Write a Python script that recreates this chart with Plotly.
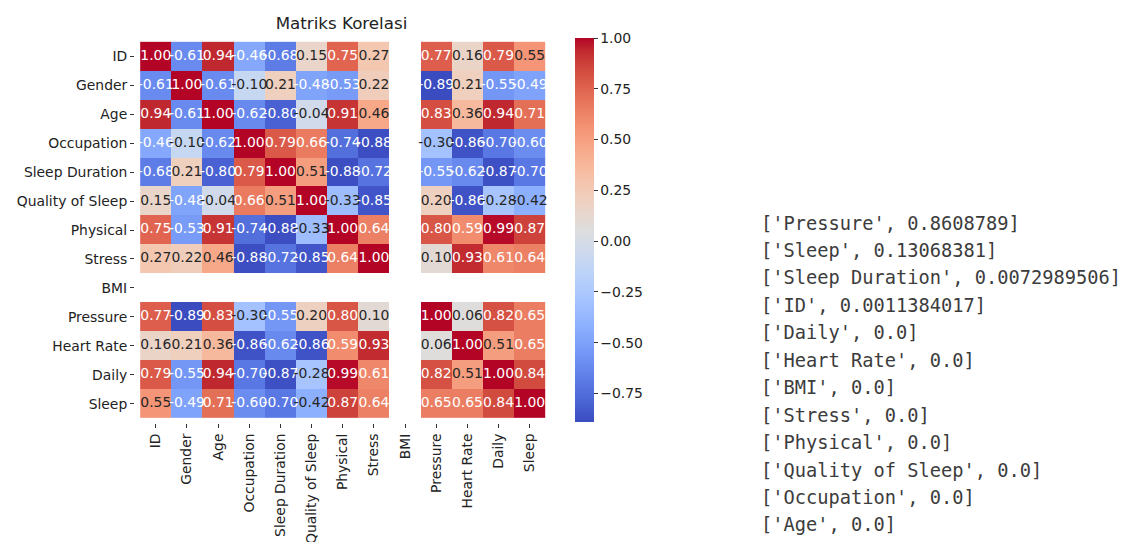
import plotly.graph_objects as go

W, H = 1129, 542
OFF = 8  # page body margin: positions below are measured in page pixels

labels = ["ID", "Gender", "Age", "Occupation", "Sleep Duration", "Quality of Sleep",
          "Physical", "Stress", "BMI", "Pressure", "Heart Rate", "Daily", "Sleep"]

N = None
row_id        = [1.00, -0.61, 0.94, -0.46, -0.68, 0.15, 0.75, 0.27, N, 0.77, 0.16, 0.79, 0.55]
row_gender    = [-0.61, 1.00, -0.61, -0.10, 0.21, -0.48, -0.53, 0.22, N, -0.89, 0.21, -0.55, -0.49]
row_age       = [0.94, -0.61, 1.00, -0.62, -0.80, -0.04, 0.91, 0.46, N, 0.83, 0.36, 0.94, 0.71]
row_occ       = [-0.46, -0.10, -0.62, 1.00, 0.79, 0.66, -0.74, -0.88, N, -0.30, -0.86, -0.70, -0.60]
row_sleepdur  = [-0.68, 0.21, -0.80, 0.79, 1.00, 0.51, -0.88, -0.72, N, -0.55, -0.62, -0.87, -0.70]
row_quality   = [0.15, -0.48, -0.04, 0.66, 0.51, 1.00, -0.33, -0.85, N, 0.20, -0.86, -0.28, -0.42]
row_physical  = [0.75, -0.53, 0.91, -0.74, -0.88, -0.33, 1.00, 0.64, N, 0.80, 0.59, 0.99, 0.87]
row_stress    = [0.27, 0.22, 0.46, -0.88, -0.72, -0.85, 0.64, 1.00, N, 0.10, 0.93, 0.61, 0.64]
row_bmi       = [N] * 13
row_pressure  = [0.77, -0.89, 0.83, -0.30, -0.55, 0.20, 0.80, 0.10, N, 1.00, 0.06, 0.82, 0.65]
row_heart     = [0.16, 0.21, 0.36, -0.86, -0.62, -0.86, 0.59, 0.93, N, 0.06, 1.00, 0.51, 0.65]
row_daily     = [0.79, -0.55, 0.94, -0.70, -0.87, -0.28, 0.99, 0.61, N, 0.82, 0.51, 1.00, 0.84]
row_sleep     = [0.55, -0.49, 0.71, -0.60, -0.70, -0.42, 0.87, 0.64, N, 0.65, 0.65, 0.84, 1.00]

matrix = [row_id, row_gender, row_age, row_occ, row_sleepdur, row_quality, row_physical,
          row_stress, row_bmi, row_pressure, row_heart, row_daily, row_sleep]

ZMIN, ZMAX = -0.89, 1.00
cbar_ticks = [-0.75, -0.50, -0.25, 0.00, 0.25, 0.50, 0.75, 1.00]

result_names = ["Pressure", "Sleep", "Sleep Duration", "ID", "Daily", "Heart Rate", "BMI",
                "Stress", "Physical", "Quality of Sleep", "Occupation", "Age"]
result_scores = [0.8608789, 0.13068381, 0.0072989506, 0.0011384017, 0.0, 0.0, 0.0,
                 0.0, 0.0, 0.0, 0.0, 0.0]

# matplotlib "coolwarm" (Moreland) colour table
cw = [(59, 76, 192), (68, 90, 204), (77, 104, 215), (87, 117, 225), (98, 130, 234),
      (108, 142, 241), (119, 154, 247), (130, 165, 251), (141, 176, 254), (152, 185, 255),
      (163, 194, 255), (174, 201, 253), (184, 208, 249), (194, 213, 244), (204, 217, 238),
      (213, 219, 230), (221, 221, 221), (229, 216, 209), (236, 211, 197), (241, 204, 185),
      (245, 196, 173), (247, 187, 160), (247, 177, 148), (247, 166, 135), (244, 154, 123),
      (241, 141, 111), (236, 127, 99), (229, 112, 88), (222, 96, 77), (213, 80, 66),
      (203, 62, 56), (192, 40, 47), (180, 4, 38)]
n = len(cw) - 1
colorscale = [[i / n, "rgb(%d,%d,%d)" % c] for i, c in enumerate(cw)]


def cmap(t):
    t = min(max(t, 0.0), 1.0) * n
    i = min(int(t), n - 1)
    f = t - i
    a, b = cw[i], cw[i + 1]
    return tuple(a[k] + (b[k] - a[k]) * f for k in range(3))


def lum(rgb):
    out = []
    for c in rgb:
        c = c / 255.0
        out.append(c / 12.92 if c <= 0.03928 else ((c + 0.055) / 1.055) ** 2.4)
    return 0.2126 * out[0] + 0.7152 * out[1] + 0.0722 * out[2]


def px(x):
    return (x - OFF) / W


def py(y):
    return 1 - (y - OFF) / H


tx, ty, tt, tc = [], [], [], []
for r, row in enumerate(matrix):
    for c, v in enumerate(row):
        if v is None:
            continue
        tx.append(labels[c])
        ty.append(labels[r])
        tt.append(format(v, ".2f"))
        col = cmap((v - ZMIN) / (ZMAX - ZMIN))
        tc.append("#262626" if lum(col) > 0.408 else "white")

FS = 13.9
fig = go.Figure()
fig.add_trace(go.Heatmap(
    z=matrix, x=labels, y=labels, colorscale=colorscale, zmin=ZMIN, zmax=ZMAX,
    hoverongaps=False, xgap=0, ygap=0,
    colorbar=dict(
        x=px(575), xanchor="left", xpad=0, ypad=0, thickness=19,
        len=(422 - 38) / H, lenmode="fraction", y=py(230), yanchor="middle",
        outlinewidth=0, ticks="outside", ticklen=4, tickwidth=1, tickcolor="#333",
        tickvals=cbar_ticks,
        ticktext=[format(v, ".2f").replace("-", "\u2212") for v in cbar_ticks],
        tickfont=dict(family="DejaVu Sans", size=FS, color="#222"),
    ),
))
fig.add_trace(go.Scatter(
    x=tx, y=ty, text=tt, mode="text", hoverinfo="skip", showlegend=False,
    textfont=dict(family="DejaVu Sans", size=FS, color=tc),
))

for i, (name, score) in enumerate(zip(result_names, result_scores)):
    fig.add_annotation(
        xref="paper", yref="paper", x=px(759), y=py(223 + i * 27.45),
        xanchor="left", yanchor="middle", showarrow=False,
        text=str([name, score]),
        font=dict(family="DejaVu Sans Mono", size=18.7, color="#3c3c3c"),
    )

fig.update_layout(
    width=W, height=H, margin=dict(l=0, r=0, t=0, b=0),
    paper_bgcolor="white", plot_bgcolor="white", showlegend=False,
    title=dict(text="Matriks Korelasi", x=px(341.5), xanchor="center",
               y=py(22.7), yanchor="middle",
               font=dict(family="DejaVu Sans", size=16.7, color="#222")),
    xaxis=dict(domain=[px(135), px(550.5)], showgrid=False, zeroline=False,
               tickangle=-90, ticks="outside", ticklen=4, tickcolor="#333",
               tickfont=dict(family="DejaVu Sans", size=FS, color="#222"),
               categoryorder="array", categoryarray=labels),
    yaxis=dict(domain=[py(423), py(37)], showgrid=False, zeroline=False,
               autorange="reversed", ticks="outside", ticklen=4, tickcolor="#333",
               tickfont=dict(family="DejaVu Sans", size=FS, color="#222"),
               categoryorder="array", categoryarray=labels),
)

fig.write_html("out.html")
